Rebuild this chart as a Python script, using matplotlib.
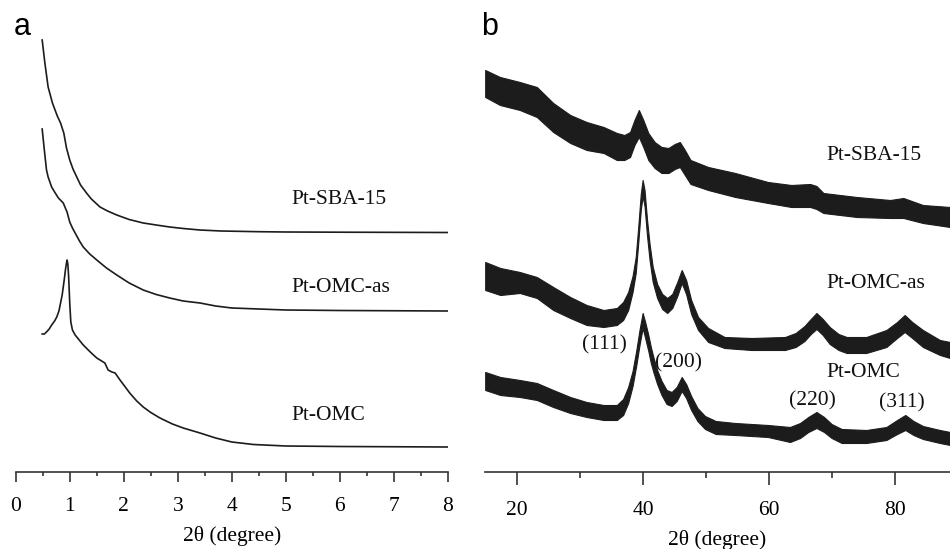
import matplotlib
matplotlib.use("Agg")
import matplotlib.pyplot as plt
from matplotlib.ticker import MultipleLocator

# ---- panel a: low-angle XRD (intensity in arbitrary units) ----
a_sba_x = [0.49, 0.54, 0.60, 0.68, 0.77, 0.83, 0.89, 0.94, 1.00, 1.06,
           1.13, 1.20, 1.31, 1.40, 1.56, 1.70, 1.87, 2.1, 2.36, 2.6,
           2.85, 3.1, 3.41, 3.8, 4.5, 5.0, 6.0, 8.0]
a_sba_y = [432, 409, 385, 369, 356, 349, 339, 324, 312, 303,
           295, 287, 279, 273, 265, 261, 257, 252.5, 249, 247,
           245, 243.5, 242, 241, 240.3, 240, 239.8, 239.5]

a_omcas_x = [0.49, 0.53, 0.57, 0.60, 0.665, 0.72, 0.79, 0.88, 0.95, 1.00,
             1.05, 1.10, 1.18, 1.25, 1.37, 1.50, 1.68, 1.87, 2.1, 2.36,
             2.6, 2.85, 3.1, 3.41, 3.7, 4.0, 4.5, 5.0, 6.0, 8.0]
a_omcas_y = [343, 322, 302, 295, 285, 280, 274, 269, 260, 250,
             244, 239, 231, 225, 218, 212, 204, 197, 189, 182,
             177.5, 174, 171, 169, 166, 164, 163, 162, 161.5, 161]

a_omc_x = [0.49, 0.53, 0.57, 0.62, 0.665, 0.72, 0.76, 0.80, 0.83, 0.86,
           0.88, 0.90, 0.92, 0.94, 0.95, 0.965, 0.98, 1.00, 1.02, 1.05,
           1.10, 1.25, 1.38, 1.50, 1.65, 1.71, 1.78, 1.84, 1.93, 2.0,
           2.11, 2.24, 2.36, 2.5, 2.67, 2.9, 3.10, 3.41, 3.7, 4.0,
           4.4, 5.0, 6.0, 8.0]
a_omc_y = [138, 138, 140, 143, 147, 151, 155, 161, 169, 177,
           185, 193, 202, 209, 212, 208, 195, 169, 150, 142,
           137, 127, 120, 114, 109, 102, 100, 99, 92, 87,
           79, 71, 65, 59.5, 54, 48, 44, 39, 34, 30,
           27.5, 26, 25.5, 25]

# ---- panel b: wide-angle XRD, noisy traces given as upper/lower envelope ----
b_sba_x = [14.9, 17.25, 20.4, 23.1, 25.7, 28.4, 31.0, 33.7, 35.8, 37.0,
           37.9, 38.6, 39.3, 40.0, 40.8, 41.8, 42.9, 44.0, 45.0, 45.8,
           46.6, 47.5, 50.3, 54.6, 59.8, 63.5, 66.5, 67.5, 68.6, 73.9,
           79.2, 81.3, 84.4, 88.7]
b_sba_hi = [402, 395, 390, 385, 369, 357, 350, 345, 339, 337,
            340, 352, 362, 352, 339, 330, 325, 324, 328, 330,
            322, 312, 305, 299, 290, 287, 288, 286, 279, 275,
            272, 274, 267, 265]
b_sba_lo = [375, 367, 362, 355, 340, 329, 322, 319, 312, 312,
            315, 327, 335, 325, 312, 304, 299, 299, 303, 305,
            297, 288, 282, 275, 269, 265, 265, 263, 259, 255,
            254, 254, 249, 245]

b_omcas_x = [14.9, 17.3, 20.4, 23.1, 25.7, 28.4, 31.0, 33.7, 35.8, 36.8,
             37.6, 38.3, 38.8, 39.2, 39.6, 39.9, 40.2, 40.6, 41.0, 41.5,
             42.2, 43.0, 43.8, 44.6, 45.4, 46.1, 46.8, 47.6, 48.7, 50.3,
             52.9, 57.2, 62.5, 64.2, 65.6, 66.6, 67.5, 68.5, 69.6, 71.0,
             72.3, 75.4, 78.6, 80.3, 81.5, 82.7, 84.4, 87.1, 88.7]
b_omcas_hi = [210, 204, 200, 195, 185, 175, 167, 162, 164, 170,
              180, 196, 215, 245, 278, 292, 282, 252, 228, 205,
              188, 178, 174, 178, 190, 202, 192, 172, 155, 144,
              135, 134, 135, 139, 146, 153, 159, 153, 145, 138,
              135, 135, 142, 150, 157, 150, 142, 132, 130]
b_omcas_lo = [182, 177, 179, 174, 162, 154, 147, 145, 147, 152,
              162, 180, 199, 229, 262, 276, 266, 236, 212, 190,
              174, 163, 159, 164, 176, 189, 178, 158, 142, 130,
              124, 122, 122, 125, 131, 138, 143, 137, 128, 122,
              119, 119, 125, 134, 140, 134, 125, 117, 114]

b_omc_x = [14.9, 17.3, 20.4, 23.1, 25.7, 28.4, 31.0, 33.7, 35.8, 36.8,
           37.6, 38.3, 38.9, 39.4, 39.9, 40.3, 40.8, 41.2, 41.6, 42.2,
           42.9, 43.7, 44.5, 45.3, 46.1, 46.8, 47.6, 48.6, 49.8, 51.5,
           54.6, 59.8, 63.3, 64.9, 66.2, 67.5, 68.7, 69.9, 71.5, 75.4,
           78.6, 80.3, 81.6, 82.9, 84.4, 87.1, 88.7]
b_omc_hi = [100, 95, 92, 89, 82, 75, 70, 67, 67, 73,
            85, 101, 122, 142, 159, 150, 137, 125, 115, 102,
            91, 82, 80, 85, 95, 88, 76, 64, 56, 51,
            49, 47, 45, 49, 55, 60, 55, 48, 43, 42,
            45, 52, 57, 51, 46, 42, 40]
b_omc_lo = [82, 77, 75, 72, 65, 59, 55, 52, 52, 57,
            69, 86, 107, 127, 144, 134, 121, 109, 100, 88,
            77, 68, 66, 71, 81, 74, 62, 51, 43, 38,
            37, 35, 30, 34, 40, 44, 40, 34, 29, 29,
            32, 38, 42, 37, 33, 29, 27]

sample_labels = ["Pt-SBA-15", "Pt-OMC-as", "Pt-OMC"]
b_peaks = ["(111)", "(200)", "(220)", "(311)"]

SERIF = ["Liberation Serif", "DejaVu Serif"]
SANS = ["Liberation Sans", "DejaVu Sans"]
FS = 15.5
INK = "#1c1c1c"

fig = plt.figure(figsize=(9.5, 5.49), dpi=100)
bottom = 77 / 549
height = 472 / 549


def style_axis(ax, major, minor, maj_len, min_len, pad):
    for side in ("top", "right", "left"):
        ax.spines[side].set_visible(False)
    ax.spines["bottom"].set_linewidth(1.2)
    ax.spines["bottom"].set_color("#333333")
    ax.yaxis.set_visible(False)
    ax.xaxis.set_major_locator(MultipleLocator(major))
    ax.xaxis.set_minor_locator(MultipleLocator(minor))
    ax.tick_params(axis="x", which="major", direction="out", length=maj_len,
                   width=1.2, color="#333333", pad=pad, labelsize=FS)
    ax.tick_params(axis="x", which="minor", direction="out", length=min_len,
                   width=1.2, color="#333333")
    for lab in ax.get_xticklabels():
        lab.set_family(SERIF)
    ax.patch.set_alpha(0)


# panel a
ax1 = fig.add_axes([15.7 / 950, bottom, (448 - 15.7) / 950, height])
for xs, ys in [(a_sba_x, a_sba_y), (a_omcas_x, a_omcas_y), (a_omc_x, a_omc_y)]:
    ax1.plot(xs, ys, color=INK, lw=1.2)
ax1.set_xlim(0, 8)
ax1.set_ylim(0, 472)
style_axis(ax1, 1, 0.5, 7, 3, 11)
ax1.set_xlabel("2θ (degree)", family=SERIF, fontsize=FS, labelpad=7)
for label, y in zip(sample_labels, [272, 185, 57]):
    ax1.text(5.11, y, label, family=SERIF, fontsize=FS, va="center",
             ha="left", color="#111111")

# panel b
ax2 = fig.add_axes([485 / 950, bottom, 465 / 950, height])
for xs, hi, lo in [(b_sba_x, b_sba_hi, b_sba_lo),
                   (b_omcas_x, b_omcas_hi, b_omcas_lo),
                   (b_omc_x, b_omc_hi, b_omc_lo)]:
    ax2.fill_between(xs, lo, hi, color=INK, lw=0.8, edgecolor=INK)
ax2.set_xlim(14.87, 88.7)
ax2.set_ylim(0, 472)
style_axis(ax2, 20, 10, 9, 4.5, 12)
ax2.set_xlabel("2θ (degree)", family=SERIF, fontsize=FS, labelpad=7)
for label, y in zip(sample_labels, [316, 188.7, 99.3]):
    ax2.text(69.1, y, label, family=SERIF, fontsize=FS, va="center",
             ha="left", color="#111111")
for label, x, y in zip(b_peaks, [33.9, 45.65, 66.9, 81.0],
                       [127, 109.3, 71.3, 68.7]):
    ax2.text(x, y, label, family=SERIF, fontsize=FS, va="center",
             ha="center", color="#111111")

fig.text(14 / 950, 1 - 35 / 549, "a", family=SANS, fontsize=22,
         va="baseline", ha="left")
fig.text(481 / 950, 1 - 35 / 549, "b", family=SANS, fontsize=22,
         va="baseline", ha="left")

fig.savefig("out.png", dpi=100)
plt.close(fig)
